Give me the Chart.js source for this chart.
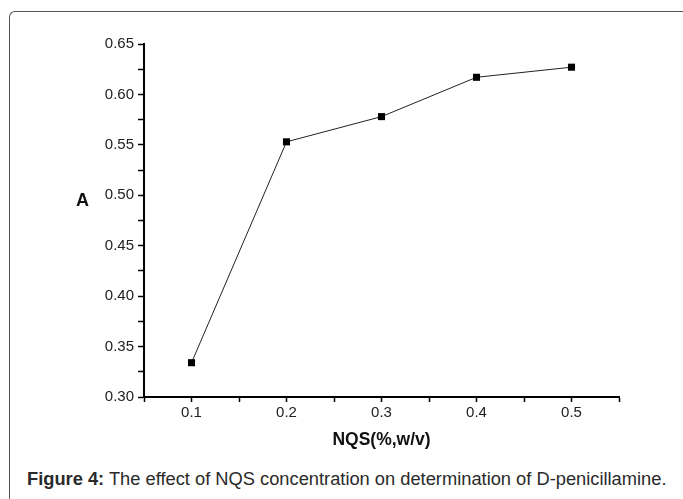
<!DOCTYPE html>
<html>
<head>
<meta charset="utf-8">
<script src="https://cdn.jsdelivr.net/npm/chart.js@4"></script>
<style>
  html, body { margin: 0; padding: 0; background: #fff; }
  body { width: 683px; height: 499px; position: relative; overflow: hidden; font-family: "Liberation Sans", Arial, sans-serif; }
  .frame { position: absolute; left: 9px; top: 11px; width: 700px; height: 520px; border-left: 1px solid #555; border-top: 1px solid #555; border-top-left-radius: 6px; }
  #wrap { position: absolute; left: 0; top: 0; width: 683px; height: 455px; }
  .ylab { position: absolute; left: 76px; top: 190px; font-size: 18px; font-weight: bold; color: #111; }
  .caption { position: absolute; left: 27px; top: 468px; font-size: 18.3px; color: #2a2a2a; white-space: nowrap; }
</style>
</head>
<body>
<div class="frame"></div>
<div id="wrap"><canvas id="myChart"></canvas></div>
<div class="ylab">A</div>
<div class="caption"><b>Figure 4:</b> The effect of NQS concentration on determination of D-penicillamine.</div>
<script>
const nqs = [0.1, 0.2, 0.3, 0.4, 0.5];
const absorbance = [0.334, 0.553, 0.578, 0.617, 0.627];

const ctx = document.getElementById("myChart").getContext("2d");

const data = {
    datasets: [{
        data: nqs.map((x, i) => ({ x: x, y: absorbance[i] })),
        borderColor: '#222',
        borderWidth: 1,
        backgroundColor: '#000',
        pointStyle: 'rect',
        pointRadius: 5,
        pointBorderWidth: 0,
        pointBackgroundColor: '#000',
        tension: 0
    }]
};

const config = {
    type: 'line',
    data: data,
    options: {
        responsive: true,
        maintainAspectRatio: false,
        animation: false,
        layout: { padding: { left: 0, top: 44, right: 64, bottom: 0 } },
        plugins: { legend: { display: false }, tooltip: { enabled: false } },
        scales: {
            x: {
                type: 'linear',
                min: 0.05,
                max: 0.55,
                afterFit: function(scale) { scale.height = 58; },
                border: { color: '#000', width: 2 },
                grid: { drawOnChartArea: false, color: '#000', tickLength: 5, tickWidth: 1.5 },
                ticks: {
                    stepSize: 0.05,
                    autoSkip: false,
                    maxRotation: 0,
                    padding: 2,
                    color: '#222',
                    font: { family: 'Liberation Sans', size: 15 },
                    callback: function(value) {
                        const v = Math.round(value * 100);
                        return v % 10 === 0 ? (v / 100).toFixed(1) : '';
                    }
                },
                title: {
                    display: true,
                    text: 'NQS(%,w/v)',
                    color: '#111',
                    font: { family: 'Liberation Sans', size: 17.5, weight: 'bold' },
                    padding: { top: 4, bottom: 4 }
                }
            },
            y: {
                min: 0.3,
                max: 0.65,
                afterFit: function(scale) { scale.width = 144; },
                border: { color: '#000', width: 2 },
                grid: { drawOnChartArea: false, color: '#000', tickLength: 6, tickWidth: 1.5 },
                ticks: {
                    stepSize: 0.025,
                    autoSkip: false,
                    padding: 4,
                    color: '#222',
                    font: { family: 'Liberation Sans', size: 15 },
                    callback: function(value) {
                        const v = Math.round(value * 1000);
                        return v % 50 === 0 ? (v / 1000).toFixed(2) : '';
                    }
                }
            }
        }
    }
};

const myChart = new Chart(ctx, config);
</script>
</body>
</html>
